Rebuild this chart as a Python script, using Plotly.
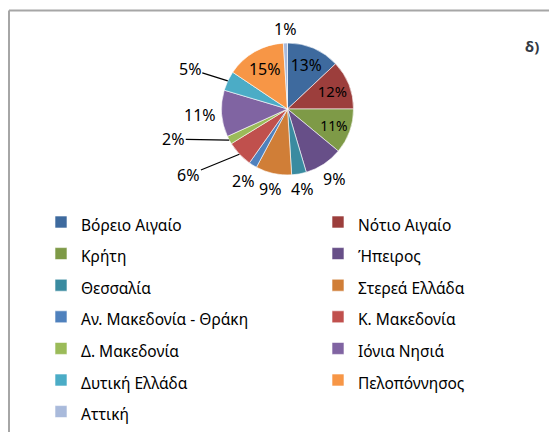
import math
import plotly.graph_objects as go

regions = ["Βόρειο Αιγαίο", "Νότιο Αιγαίο", "Κρήτη", "Ήπειρος", "Θεσσαλία",
           "Στερεά Ελλάδα", "Αν. Μακεδονία - Θράκη", "Κ. Μακεδονία", "Δ. Μακεδονία",
           "Ιόνια Νησιά", "Δυτική Ελλάδα", "Πελοπόννησος", "Αττική"]
shares = [13.0, 12.0, 11.0, 9.4, 3.6, 8.8, 2.0, 6.4, 2.0, 11.4, 4.8, 14.6, 1.0]
colors = ["#3E6A9E", "#9C3E3C", "#7E9A47", "#674F88", "#3A8BA0", "#D07E37",
          "#4F81BD", "#C0504D", "#9BBB59", "#8064A2", "#4BACC6", "#F79646", "#A9BADB"]
inside = {"Βόρειο Αιγαίο", "Νότιο Αιγαίο", "Κρήτη", "Πελοπόννησος"}
# outside labels that sit further out with a leader line: (dx, dy) in px, y down
leader = {"Κ. Μακεδονία": (-51, 21), "Δ. Μακεδονία": (-56, -1), "Δυτική Ελλάδα": (-38, -12)}

font = "Noto Sans"
# the page adds an 8px body margin; the figure is larger than the window so
# the two-column legend gets room (a horizontal legend may use half the height)
W, H = 600, 480
OFF = 8


def px(x):  # window pixel -> paper x
    return (x - OFF) / W


def py(y):  # window pixel -> paper y
    return 1 - (y - OFF) / H


dom_x = [px(221.5), px(353.5)]
dom_y = [py(175), py(43)]

fig = go.Figure()
fig.add_trace(go.Pie(
    labels=[f'<span style="font-size:15.5px">{r}</span>' for r in regions],
    values=shares,
    sort=False,
    direction="clockwise",
    marker=dict(colors=colors, line=dict(color="white", width=0.6)),
    texttemplate="%{percent:.0%}",
    textposition=["inside" if r in inside else "none" for r in regions],
    insidetextorientation="horizontal",
    textfont=dict(family=font, size=16, color="black"),
    domain=dict(x=dom_x, y=dom_y),
    hoverinfo="label+percent",
))

# outside data labels, placed around the pie from the cumulative shares
cx = sum(dom_x) / 2
cy = sum(dom_y) / 2
rad = min((dom_x[1] - dom_x[0]) * W, (dom_y[1] - dom_y[0]) * H) / 2
total = sum(shares)
annotations = []
acc = 0
for name, v in zip(regions, shares):
    mid = (acc + v / 2) / total * 2 * math.pi
    acc += v
    if name in inside:
        continue
    txt = f"{round(v / total * 100)}%"
    sx, sy = math.sin(mid), math.cos(mid)
    lab_font = dict(family=font, size=16, color="black")
    if name in leader:
        ax, ay = leader[name]
        annotations.append(dict(
            x=cx + rad * sx / W, y=cy + rad * sy / H, xref="paper", yref="paper",
            text=txt, showarrow=True, arrowhead=0, arrowwidth=1.2, arrowcolor="black",
            ax=ax, ay=ay, standoff=0, font=lab_font))
    else:
        d = rad + 6 + abs(sx) * 5 * len(txt) + abs(sy) * 8
        annotations.append(dict(
            x=cx + d * sx / W, y=cy + d * sy / H, xref="paper", yref="paper",
            text=txt, showarrow=False, xanchor="center", yanchor="middle",
            font=lab_font))

annotations.append(dict(
    text="<b>δ)</b>", xref="paper", yref="paper", x=px(532), y=py(46),
    xanchor="center", yanchor="middle", showarrow=False,
    font=dict(family=font, size=15, color="#333A45")))

fig.update_layout(
    width=W, height=H,
    margin=dict(l=0, r=0, t=0, b=0),
    paper_bgcolor="white",
    font=dict(family=font, color="black"),
    showlegend=True,
    legend=dict(
        orientation="h",
        x=px(41), y=py(201.2), xanchor="left", yanchor="top",
        entrywidth=232, entrywidthmode="pixels",
        bgcolor="rgba(0,0,0,0)",
        font=dict(family=font, size=22, color="black"),
        itemclick=False,
    ),
    shapes=[
        dict(type="line", xref="paper", yref="paper", x0=1 / W, x1=1, y0=py(10.5), y1=py(10.5),
             line=dict(color="#A6A6A6", width=2)),
        dict(type="line", xref="paper", yref="paper", x0=1 / W, x1=1 / W, y0=0, y1=py(10.5),
             line=dict(color="#A6A6A6", width=2)),
    ],
    annotations=annotations,
)

fig.write_html("out.html")
